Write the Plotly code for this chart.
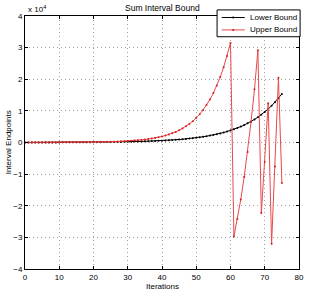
import plotly.graph_objects as go

iterations = list(range(0, 76))

lower_bound = [
    14, 16, 17, 19, 21, 23, 25, 27, 30, 33,
    36, 40, 44, 48, 53, 58, 63, 70, 76, 84,
    92, 101, 111, 122, 133, 146, 161, 176, 194, 212,
    233, 256, 281, 308, 338, 371, 408, 447, 491, 539,
    591, 649, 712, 782, 858, 942, 1033, 1134, 1245, 1366,
    1499, 1645, 1805, 1981, 2175, 2387, 2619, 2875, 3155, 3462,
    3800, 4171, 4577, 5024, 5513, 6051, 6641, 7288, 7999, 8779,
    9635, 10574, 11605, 12737, 13979, 15342,
]

upper_bound = [
    16, 18, 20, 22, 24, 26, 29, 32, 35, 39,
    43, 47, 52, 57, 62, 66, 72, 80, 90, 101,
    116, 134, 154, 177, 204, 234, 270, 310, 357, 410,
    472, 543, 625, 719, 827, 951, 1094, 1258, 1447, 1665,
    1915, 2203, 2534, 2914, 3352, 3856, 4436, 5102, 5869, 6751,
    7766, 8933, 10276, 11820, 13597, 15641, 17992, 20696, 23806, 27384,
    31500, -29700, -24200, -18000, -10900, -3000, 6500, 16800, 29200, -22300,
    -6200, 12400, -32000, -7600, 20500, -12800,
]

series_names = ["Lower Bound", "Upper Bound"]
x_ticks = [0, 10, 20, 30, 40, 50, 60, 70, 80]
y_ticks = [-40000, -30000, -20000, -10000, 0, 10000, 20000, 30000, 40000]
y_tick_labels = ["\u22124", "\u22123", "\u22122", "\u22121", "0", "1", "2", "3", "4"]

FONT = "Liberation Sans, Arial, Helvetica, sans-serif"
LINE_COLORS = ["#000000", "#e8494c"]
MARK_COLORS = ["#000000", "#d62020"]

fig = go.Figure()
for name, ys, lc, mc in zip(series_names, [lower_bound, upper_bound], LINE_COLORS, MARK_COLORS):
    fig.add_trace(go.Scatter(
        x=iterations, y=ys, mode="lines+markers", name=name,
        line=dict(color=lc, width=1),
        marker=dict(color=mc, size=2),
        showlegend=False,
    ))

axis_common = dict(
    showline=True, linecolor="#000000", linewidth=1, mirror="ticks",
    ticks="inside", ticklen=3, tickcolor="#000000",
    showgrid=True, gridcolor="#a0a0a0", griddash="1px,3px", gridwidth=1,
    zeroline=False, tickfont=dict(family=FONT, size=8, color="#000000"),
)

# custom compact legend (MATLAB style)
shapes = [dict(type="rect", xref="paper", yref="paper", x0=0.701, x1=1.004, y0=0.918, y1=1.024,
               line=dict(color="#000000", width=1), fillcolor="white", layer="above")]
annotations = []
legend_y = [0.994, 0.945]
for name, ly, lc, mc in zip(series_names, legend_y, LINE_COLORS, MARK_COLORS):
    shapes.append(dict(type="line", xref="paper", yref="paper", x0=0.718, x1=0.802, y0=ly, y1=ly,
                       line=dict(color=lc, width=1), layer="above"))
    shapes.append(dict(type="circle", xref="paper", yref="paper", x0=0.756, x1=0.764,
                       y0=ly - 0.004, y1=ly + 0.004, line=dict(color=mc, width=0),
                       fillcolor=mc, layer="above"))
    annotations.append(dict(text=name, x=0.814, y=ly, xref="paper", yref="paper",
                            xanchor="left", yanchor="middle", showarrow=False,
                            font=dict(family=FONT, size=8, color="#000000")))

annotations += [
    dict(text="Sum Interval Bound", x=0.5, y=1.03, xref="paper", yref="paper",
         xanchor="center", yanchor="middle", showarrow=False,
         font=dict(family=FONT, size=8.5)),
    dict(text="x 10<sup>4</sup>", x=0.002, y=1.027, xref="paper", yref="paper",
         xanchor="left", yanchor="middle", showarrow=False,
         font=dict(family=FONT, size=8)),
    dict(text="Iterations", x=0.5, y=-0.07, xref="paper", yref="paper",
         xanchor="center", yanchor="middle", showarrow=False,
         font=dict(family=FONT, size=8)),
    dict(text="Interval Endpoints", x=-0.059, y=0.5, xref="paper", yref="paper",
         xanchor="center", yanchor="middle", showarrow=False, textangle=-90,
         font=dict(family=FONT, size=8)),
]

fig.update_layout(
    width=311, height=295,
    margin=dict(l=25, r=7, t=16, b=26),
    paper_bgcolor="white", plot_bgcolor="white",
    font=dict(family=FONT, size=8, color="#000000"),
    xaxis=dict(range=[0, 80], tickvals=x_ticks, **axis_common),
    yaxis=dict(range=[-40000, 40000], tickvals=y_ticks, ticktext=y_tick_labels, **axis_common),
    showlegend=False,
    shapes=shapes,
    annotations=annotations,
)

fig.write_html("out.html")
